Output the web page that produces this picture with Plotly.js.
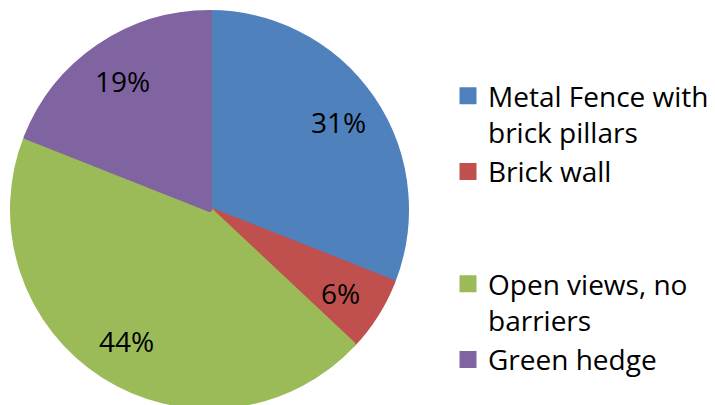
<!DOCTYPE html>
<html>
<head>
<meta charset="utf-8">
<script src="https://cdn.plot.ly/plotly-3.0.1.min.js"></script>
<style>
html, body { margin: 0; padding: 0; overflow: hidden; background: #fff; }
#chart { width: 715px; height: 415px; }
</style>
</head>
<body>
<div id="chart"></div>
<script>
const categories = ["Metal Fence with<br>brick pillars", "Brick wall<br>\u00A0<br>\u00A0", "Open views, no<br>barriers", "Green hedge"];
const shares = [31, 6, 44, 19];
const colors = ["#4F81BD", "#C0504D", "#9BBB59", "#8064A2"];

const W = 715, H = 415;
const CX = 209.5, CY = 209.5, R = 199.5, LW = 5;
const FONT = "Open Sans";

const trace = {
  type: "pie",
  labels: categories,
  values: shares,
  sort: false,
  direction: "clockwise",
  rotation: 0,
  marker: { colors: colors, line: { width: LW, color: colors } },
  textinfo: "none",
  hoverinfo: "none",
  domain: {
    x: [(CX - R + LW / 2) / W, (CX + R - LW / 2) / W],
    y: [(H - (CY + R - LW / 2)) / H, (H - (CY - R + LW / 2)) / H]
  }
};

// percentage labels placed along each slice's bisector, derived from the data
const total = shares.reduce((a, b) => a + b, 0);
let cum = 0;
const annotations = shares.map(v => {
  const mid = (cum + v / 2) / total * 2 * Math.PI;
  cum += v;
  const rr = R * 0.78;
  const px = CX + rr * Math.sin(mid);
  const py = CY - rr * Math.cos(mid);
  return {
    xref: "paper", yref: "paper",
    x: px / W, y: 1 - py / H,
    xanchor: "center", yanchor: "middle",
    text: Math.round(v / total * 100) + "%",
    showarrow: false,
    font: { family: FONT, size: 28, color: "#000" }
  };
});

const layout = {
  width: W,
  height: H,
  margin: { l: 0, r: 0, t: 0, b: 0 },
  paper_bgcolor: "#fff",
  showlegend: true,
  annotations: annotations,
  legend: {
    x: 448 / W, xanchor: "left",
    y: 1 - 71 / H, yanchor: "top",
    valign: "top",
    font: { family: FONT, size: 28, color: "#000" },
    bgcolor: "rgba(0,0,0,0)"
  }
};

Plotly.newPlot("chart", [trace], layout, { displayModeBar: false, staticPlot: true });
</script>
</body>
</html>
